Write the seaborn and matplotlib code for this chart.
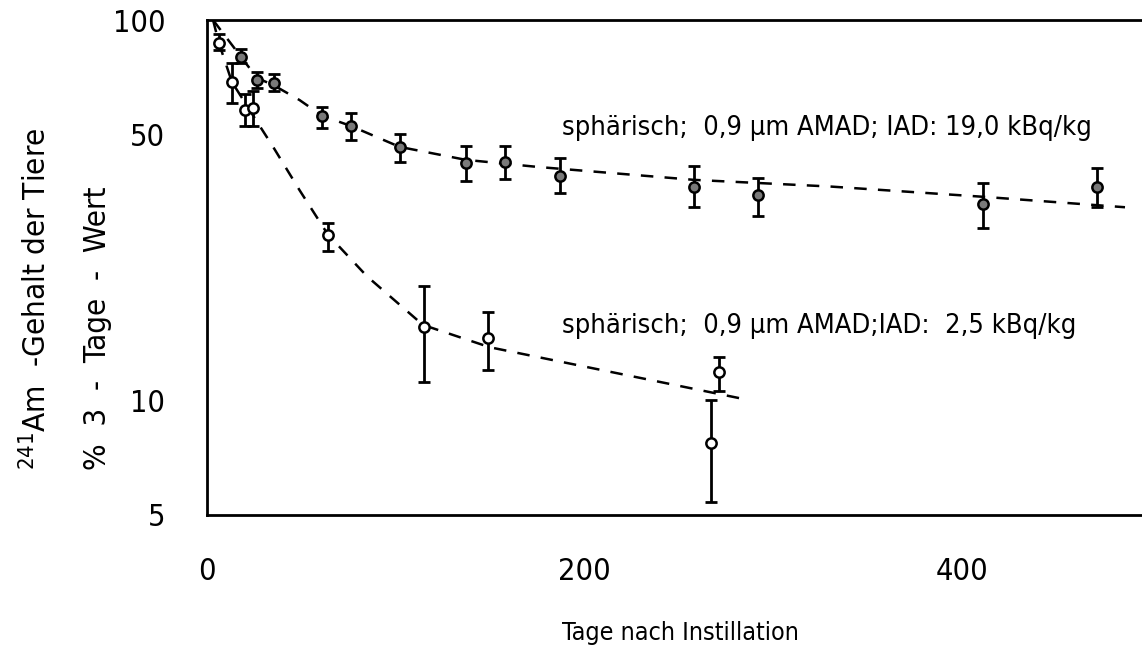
import matplotlib
matplotlib.use("Agg")
import matplotlib.pyplot as plt
import matplotlib.ticker as mticker
import seaborn as sns
import pandas as pd

# Retention after instillation, normalised to the 3-day value (%)
# Series A: spherical particles, 0.9 um AMAD, IAD 19.0 kBq/kg
days_high = [18, 26.5, 35.4, 60.8, 76.2, 102, 137, 157.7, 186.8, 258, 291.5, 410.6, 471.4]
pct_high = [80.0, 69.6, 68.3, 56.0, 52.7, 46.4, 42.1, 42.4, 38.9, 36.4, 34.7, 32.9, 36.4]
upper_high = [83.9, 73.0, 72.1, 59.1, 57.0, 50.2, 46.7, 46.7, 43.4, 41.4, 38.4, 37.3, 40.9]
lower_high = [77.1, 66.2, 65.1, 52.0, 48.4, 42.4, 37.7, 38.2, 35.1, 32.3, 30.6, 28.4, 32.3]

# Series B: spherical particles, 0.9 um AMAD, IAD 2.5 kBq/kg
days_low = [6.3, 13.2, 20.1, 24.3, 64, 114.8, 148.7, 270.9, 266.7]
pct_low = [87.0, 68.7, 58.0, 58.7, 27.3, 15.6, 14.6, 11.9, 7.74]
upper_low = [91.9, 77.1, 63.9, 65.1, 29.3, 20.0, 17.1, 13.0, 10.0]
lower_low = [83.4, 60.5, 52.7, 52.7, 24.7, 11.2, 12.0, 10.6, 5.4]

# Fitted retention curves
fit_high_days = [3.2, 18, 26.5, 35, 49, 61, 76, 102, 137, 175, 258, 330, 411, 486]
fit_high_pct = [100, 80.0, 70.4, 67.5, 61.6, 56.0, 52.7, 46.4, 42.9, 41.1, 38.0, 36.5, 34.3, 32.2]
fit_low_days = [3.2, 6.3, 13.2, 26.5, 35, 49, 64, 84.7, 114.3, 149.7, 202.6, 283.6]
fit_low_pct = [100, 87.0, 68.7, 54.0, 46.4, 35.7, 27.3, 21.2, 15.8, 13.8, 12.2, 10.1]

y_ticks = [5, 10, 50, 100]
x_ticks = [0, 200, 400]

label_high = "sphärisch;  0,9 µm AMAD; IAD: 19,0 kBq/kg"
label_low = "sphärisch;  0,9 µm AMAD;IAD:  2,5 kBq/kg"

sns.set_theme(style="white")
plt.rcParams["font.family"] = ["DejaVu Sans"]
plt.rcParams["font.stretch"] = "condensed"
plt.rcParams["mathtext.fontset"] = "dejavusans"

fig = plt.figure(figsize=(11.42, 6.68), dpi=100)
W, H = 1142, 668
ax = fig.add_axes([207 / W, 1 - 515 / H, (W - 207) / W, (515 - 20) / H])

fits = pd.concat([
    pd.DataFrame({"t": fit_high_days, "p": fit_high_pct, "s": "high"}),
    pd.DataFrame({"t": fit_low_days, "p": fit_low_pct, "s": "low"}),
])
sns.lineplot(data=fits, x="t", y="p", units="s", estimator=None, sort=False,
             color="black", lw=1.8, dashes=False, ax=ax, legend=False)
for ln in ax.lines:
    ln.set_linestyle((0, (5, 4.5)))

def draw_series(days, pct, lo, hi, face):
    yerr = [[p - l for p, l in zip(pct, lo)], [h - p for p, h in zip(pct, hi)]]
    ax.errorbar(days, pct, yerr=yerr, fmt="none", ecolor="black",
                elinewidth=2.0, capsize=4, capthick=2.0, zorder=3)
    df = pd.DataFrame({"t": days, "p": pct})
    sns.scatterplot(data=df, x="t", y="p", ax=ax, s=55, marker="o",
                    facecolor=face, edgecolor="black", linewidth=1.8,
                    zorder=4, legend=False)

draw_series(days_high, pct_high, lower_high, upper_high, "#7a7a7a")
draw_series(days_low, pct_low, lower_low, upper_low, "white")

ax.set_yscale("log")
ax.set_xlim(0, 495)
ax.set_ylim(5, 100)
ax.set_yticks(y_ticks)
ax.yaxis.set_major_formatter(mticker.FixedFormatter([str(v) for v in y_ticks]))
ax.yaxis.set_minor_locator(mticker.NullLocator())
ax.set_xticks(x_ticks)
ax.set_xlabel("")
ax.set_ylabel("")

for side in ["left", "bottom", "top"]:
    ax.spines[side].set_color("black")
    ax.spines[side].set_linewidth(2.0)
ax.spines["right"].set_visible(False)

ax.tick_params(axis="both", direction="in", length=7, width=2, color="black",
               labelsize=22, labelcolor="black")
ax.tick_params(axis="y", pad=30)
ax.tick_params(axis="x", pad=30)

ax.text(188, 52.0, label_high, fontsize=19.5, va="center", ha="left", color="black")
ax.text(188, 15.7, label_low, fontsize=19.5, va="center", ha="left", color="black")

fig.text(680 / W, 1 - 633 / H, "Tage nach Instillation", fontsize=18,
         ha="center", va="center", color="black")
fig.text(36 / W, 1 - 470 / H, r"$^{241}$Am  -Gehalt der Tiere", fontsize=22.5,
         rotation=90, ha="center", va="bottom", color="black")
fig.text(98 / W, 1 - 470 / H, "%  3  -  Tage  -  Wert", fontsize=22.5,
         rotation=90, ha="center", va="bottom", color="black")

fig.savefig("out.png", dpi=100, facecolor="white")
